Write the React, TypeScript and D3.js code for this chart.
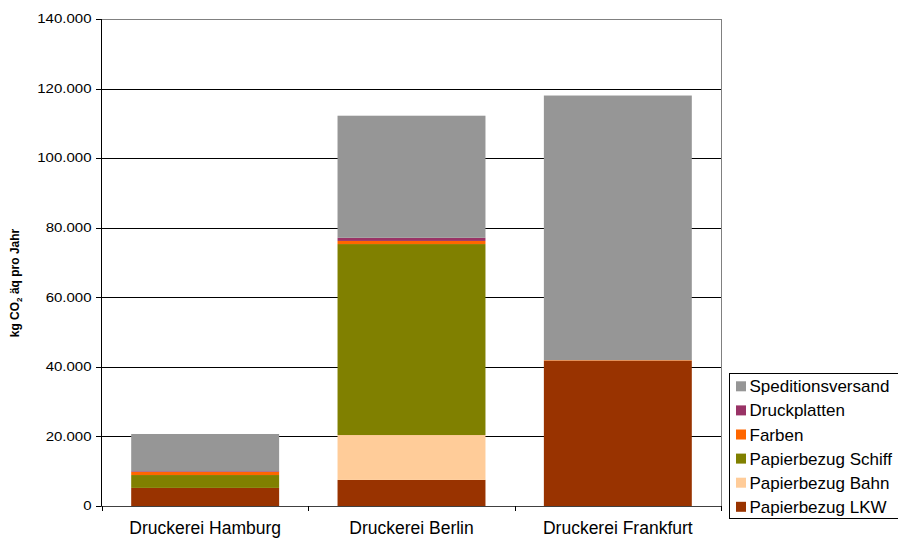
import React from "react";
import * as d3 from "d3";

// Standorte
const categories = ["Druckerei Hamburg", "Druckerei Berlin", "Druckerei Frankfurt"];

// Emissionen je Quelle, kg CO2-Äquivalent pro Jahr
const papierLKW = [5200, 7500, 41700];
const papierBahn = [0, 12900, 0];
const papierSchiff = [3700, 54900, 0];
const farben = [900, 900, 200];
const druckplatten = [200, 900, 0];
const speditionsversand = [10700, 35100, 76100];

const seriesNames = [
  "Papierbezug LKW",
  "Papierbezug Bahn",
  "Papierbezug Schiff",
  "Farben",
  "Druckplatten",
  "Speditionsversand",
];
const seriesValues = [papierLKW, papierBahn, papierSchiff, farben, druckplatten, speditionsversand];
const seriesColors = ["#993300", "#FFCC99", "#808000", "#FF6600", "#993366", "#969696"];

const yTicks = [0, 20000, 40000, 60000, 80000, 100000, 120000, 140000];

const W = 898;
const H = 538;
const plot = { left: 102, right: 721, top: 19, bottom: 506 };
const font = "'Liberation Sans', Arial, Helvetica, sans-serif";

const de = d3.formatLocale({ decimal: ",", thousands: ".", grouping: [3], currency: ["", " €"] });
const fmt = de.format(",.0f");

export default function App() {
  const rows = categories.map((c, i) => {
    const r: Record<string, number | string> = { category: c };
    seriesNames.forEach((s, k) => (r[s] = seriesValues[k][i]));
    return r;
  });
  const stacked = d3.stack<Record<string, number | string>>().keys(seriesNames)(rows as any);

  const x = d3
    .scaleBand<string>()
    .domain(categories)
    .range([plot.left, plot.right])
    .paddingInner(0.283)
    .paddingOuter(0.1415);
  const y = d3.scaleLinear().domain([0, 140000]).range([plot.bottom, plot.top]);

  const crisp = (v: number) => Math.round(v) + 0.5;
  const step = x.step();
  const boundaries = d3.range(categories.length + 1).map((i) => plot.left + i * step);

  const legendItems = seriesNames.map((n, i) => ({ name: n, color: seriesColors[i] })).reverse();
  const legendTop = 386.3;
  const legendStep = 24.1;

  return (
    <svg
      width={W}
      height={H}
      style={{ position: "absolute", left: 0, top: 0, background: "#fff" }}
      fontFamily={font}
    >
      {/* Gitterlinien */}
      {yTicks.slice(1, -1).map((t) => (
        <line
          key={t}
          x1={plot.left}
          x2={plot.right}
          y1={crisp(y(t))}
          y2={crisp(y(t))}
          stroke="#000"
          strokeWidth={1}
        />
      ))}
      {/* Rahmen oben und rechts */}
      <line x1={plot.left} x2={plot.right} y1={crisp(y(140000))} y2={crisp(y(140000))} stroke="#808080" />
      <line x1={plot.right + 0.5} x2={plot.right + 0.5} y1={y(140000)} y2={plot.bottom} stroke="#808080" />

      {/* Gestapelte Säulen */}
      {stacked.map((layer, k) => (
        <g key={layer.key} fill={seriesColors[k]}>
          {layer.map((d, i) => {
            const h = y(d[0]) - y(d[1]);
            if (h <= 0) return null;
            return (
              <rect
                key={i}
                x={x(categories[i])}
                y={y(d[1])}
                width={x.bandwidth()}
                height={h}
              />
            );
          })}
        </g>
      ))}

      {/* Y-Achse */}
      <line x1={plot.left - 0.5} x2={plot.left - 0.5} y1={y(140000)} y2={plot.bottom} stroke="#000" />
      {yTicks.map((t) => (
        <g key={t}>
          <line
            x1={plot.left - 6}
            x2={plot.left}
            y1={crisp(y(t))}
            y2={crisp(y(t))}
            stroke="#000"
          />
          <g transform={`translate(91.5, ${y(t) + 4.3}) scale(1.25,1)`}>
            <text textAnchor="end" fontSize={12} fill="#000">
              {fmt(t)}
            </text>
          </g>
        </g>
      ))}

      {/* X-Achse */}
      <line x1={plot.left - 1} x2={plot.right + 1} y1={crisp(plot.bottom)} y2={crisp(plot.bottom)} stroke="#404040" />
      {boundaries.map((b, i) => (
        <line key={i} x1={crisp(b)} x2={crisp(b)} y1={plot.bottom} y2={plot.bottom + 5} stroke="#000" />
      ))}
      {categories.map((c) => (
        <text
          key={c}
          x={(x(c) as number) + x.bandwidth() / 2}
          y={534}
          textAnchor="middle"
          fontSize={17.5}
          fill="#000"
        >
          {c}
        </text>
      ))}

      {/* Achsentitel */}
      <text
        transform="translate(19, 283) rotate(-90)"
        textAnchor="middle"
        fontSize={12}
        fontWeight="bold"
        fill="#000"
      >
        kg CO
        <tspan fontSize={8} dy={3}>
          2
        </tspan>
        <tspan dy={-3}> äq pro Jahr</tspan>
      </text>

      {/* Legende */}
      <rect x={729.5} y={373.5} width={180} height={145} fill="#fff" stroke="#000" strokeWidth={1} />
      {legendItems.map((it, i) => {
        const cy = legendTop + i * legendStep;
        return (
          <g key={it.name}>
            <rect x={736} y={cy - 5} width={10} height={10} fill={it.color} />
            <text x={749.5} y={cy + 6} fontSize={17} fill="#000">
              {it.name}
            </text>
          </g>
        );
      })}
    </svg>
  );
}
